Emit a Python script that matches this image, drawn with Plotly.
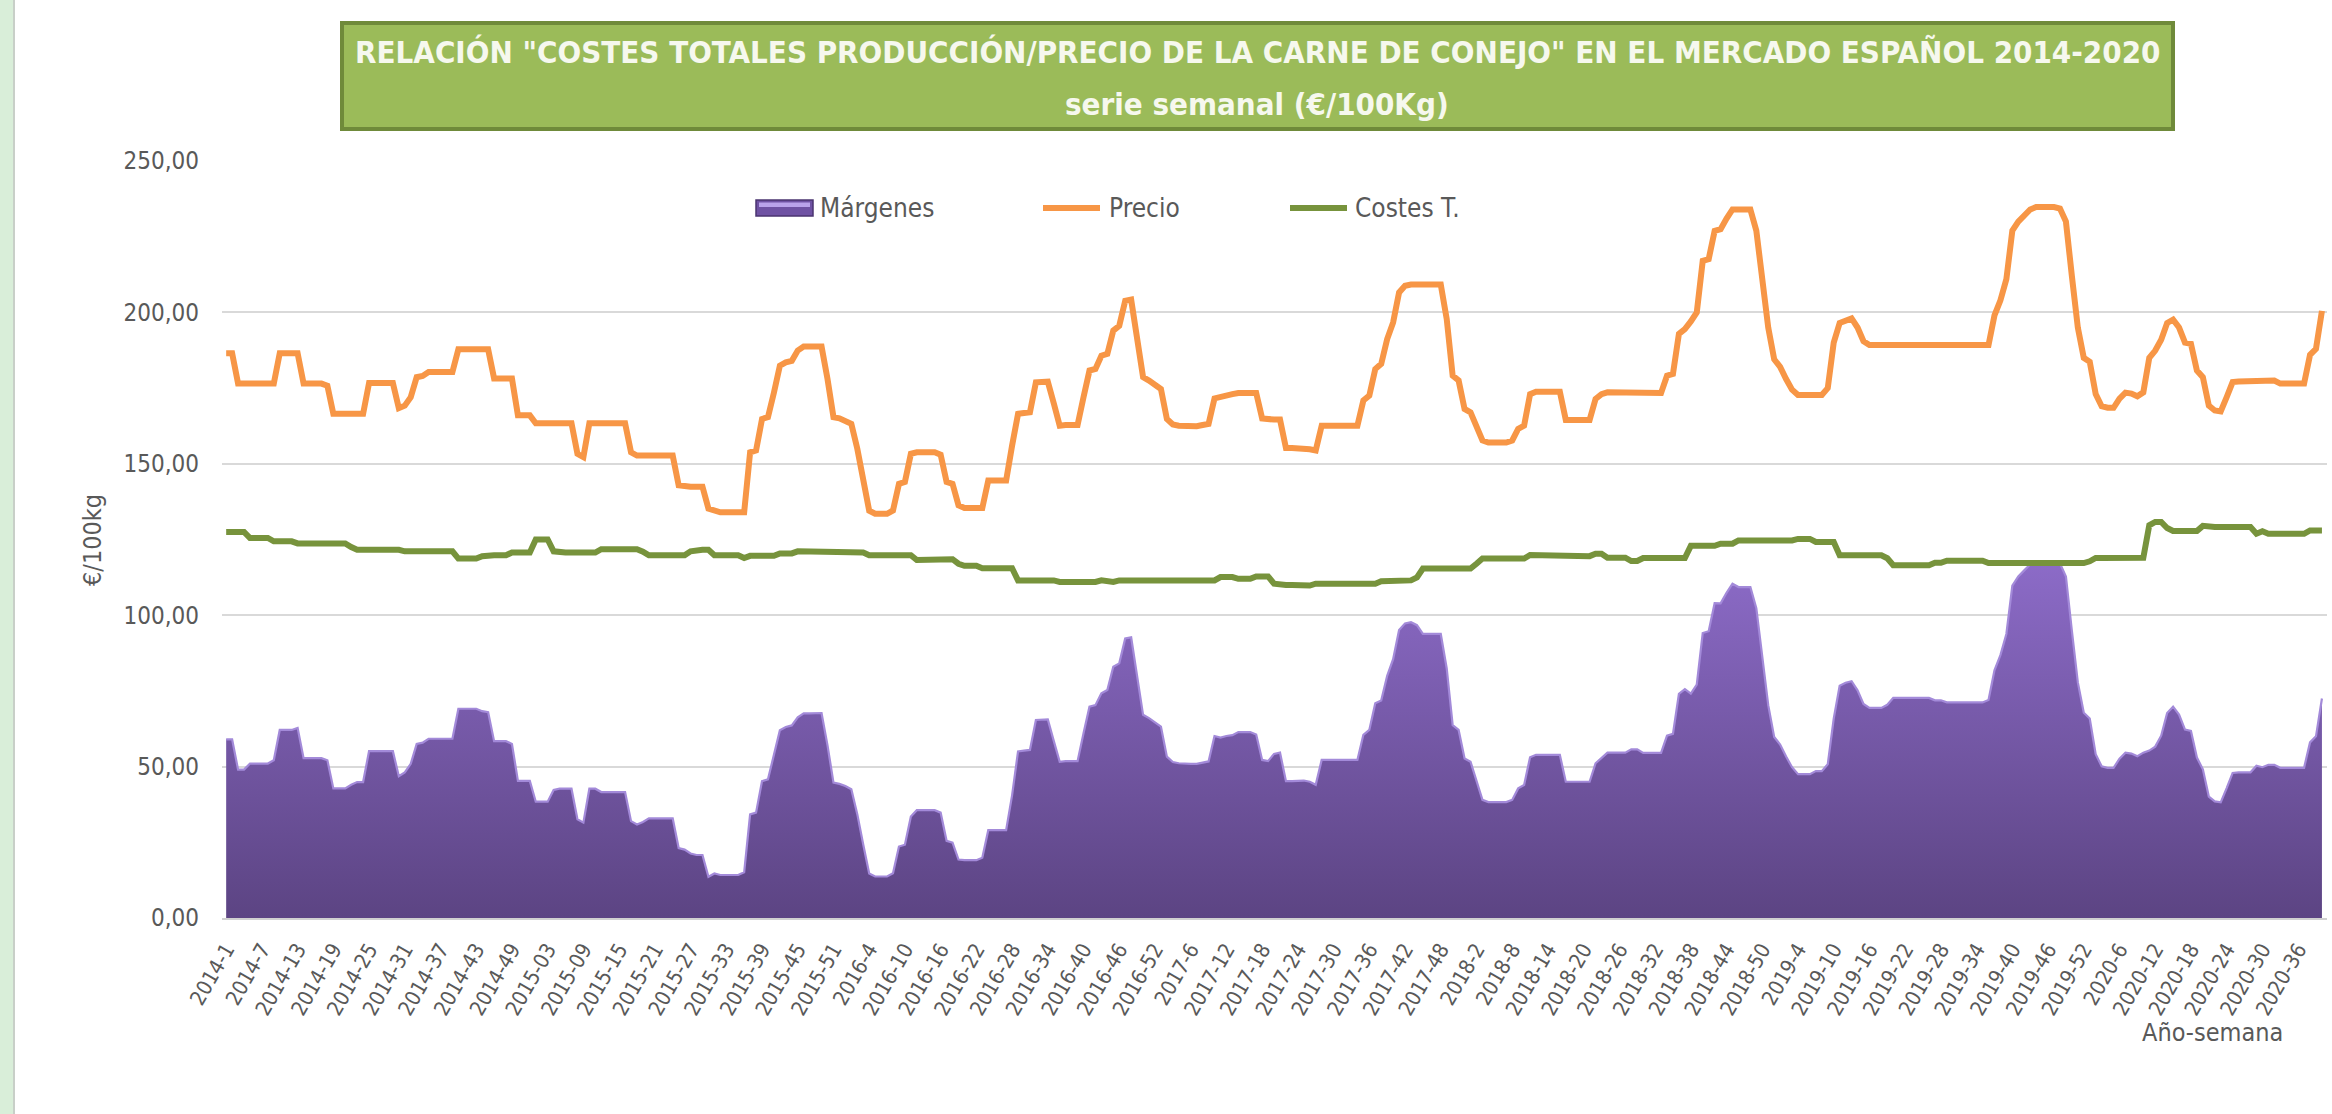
import plotly.graph_objects as go

# ---------------- DATA ----------------
years = [2014, 2015, 2016, 2017, 2018, 2019, 2020]
weeks_in_year = [52, 53, 52, 52, 52, 52, 40]

precio_2014 = [186.5, 186.5, 176.5, 176.5, 176.5, 176.5, 176.5, 176.5, 176.5, 186.5,
               186.5, 186.5, 186.5, 176.5, 176.5, 176.5, 176.5, 175.8, 166.5, 166.5,
               166.5, 166.5, 166.5, 166.5, 176.7, 176.7, 176.7, 176.7, 176.7, 168.4,
               169.2, 172.0, 178.6, 179.0, 180.3, 180.3, 180.3, 180.3, 180.3, 187.8,
               187.8, 187.8, 187.8, 187.8, 187.8, 178.2, 178.2, 178.2, 178.2, 166.0,
               166.0, 166.0]
precio_2015 = [163.4, 163.4, 163.4, 163.4, 163.4, 163.4, 163.4, 153.3, 152.2, 163.4,
               163.4, 163.4, 163.4, 163.4, 163.4, 163.4, 153.8, 152.7, 152.7, 152.7,
               152.7, 152.7, 152.7, 152.7, 142.9, 142.4, 142.4, 142.4, 142.4, 135.2,
               134.5, 134.0, 134.0, 134.0, 134.0, 134.0, 153.8, 154.4, 164.8, 165.4,
               173.5, 182.4, 183.5, 184.0, 187.4, 188.7, 188.7, 188.7, 188.7, 178.0,
               165.4, 165.0, 164.3]
precio_2016 = [163.2, 155.0, 145.0, 134.5, 133.5, 133.5, 133.5, 134.6, 143.4, 144.0,
               153.3, 153.8, 153.8, 153.8, 153.8, 153.0, 144.0, 143.4, 136.3, 135.4,
               135.4, 135.4, 135.4, 144.5, 144.5, 144.5, 144.5, 156.0, 166.5, 166.8,
               167.0, 176.9, 177.1, 177.1, 170.0, 162.6, 162.8, 162.8, 162.8, 172.0,
               180.8, 181.3, 185.7, 186.3, 194.0, 195.6, 203.8, 204.2, 191.2, 178.6,
               177.5, 176.0]
precio_2017 = [174.7, 164.8, 163.0, 162.6, 162.4, 162.4, 162.4, 162.8, 163.2, 171.6,
               172.2, 172.7, 173.0, 173.4, 173.4, 173.4, 173.4, 165.0, 164.6, 164.6,
               164.6, 155.2, 155.2, 155.2, 155.2, 154.8, 154.4, 162.6, 162.6, 162.6,
               162.6, 162.6, 162.6, 162.6, 170.9, 172.5, 181.3, 183.0, 191.2, 196.7,
               206.6, 208.8, 209.2, 209.2, 209.2, 209.2, 209.2, 209.2, 197.8, 179.1,
               177.5, 168.1]
precio_2018 = [167.0, 162.0, 157.7, 157.0, 157.0, 157.0, 157.0, 157.7, 161.5, 162.6,
               173.0, 173.8, 173.8, 173.8, 173.8, 173.8, 164.5, 164.5, 164.5, 164.5,
               164.5, 171.4, 173.0, 173.6, 173.6, 173.6, 173.6, 173.6, 173.6, 173.4,
               173.4, 173.4, 173.4, 179.1, 179.7, 192.9, 194.5, 197.0, 200.0, 217.0,
               217.6, 226.9, 227.5, 231.0, 234.0, 234.0, 234.0, 234.0, 227.0, 210.0,
               195.0, 184.5]
precio_2019 = [182.0, 178.0, 174.5, 172.7, 172.7, 172.7, 172.7, 172.7, 175.0, 190.0,
               196.5, 197.5, 198.0, 195.0, 190.5, 189.2, 189.2, 189.2, 189.2, 189.2,
               189.2, 189.2, 189.2, 189.2, 189.2, 189.2, 189.2, 189.2, 189.2, 189.2,
               189.2, 189.2, 189.2, 189.2, 189.2, 189.2, 199.0, 204.0, 211.0, 227.0,
               230.0, 232.0, 234.0, 234.8, 234.8, 234.8, 234.8, 234.3, 230.0, 212.0,
               195.0, 185.0]
precio_2020 = [183.7, 173.0, 169.0, 168.5, 168.5, 171.5, 173.5, 173.2, 172.3, 173.6,
               185.0, 187.4, 191.0, 196.5, 197.6, 195.0, 190.0, 189.6, 180.8, 178.6,
               169.2, 167.6, 167.3, 172.0, 177.0, 177.2, 177.2, 177.2, 177.2, 177.5,
               177.5, 177.5, 176.5, 176.5, 176.5, 176.5, 176.5, 186.0, 188.0, 200.5]

costes_2014 = [127.5, 127.5, 127.5, 127.5, 125.5, 125.5, 125.5, 125.5, 124.4, 124.4,
               124.4, 124.4, 123.7, 123.7, 123.7, 123.7, 123.7, 123.7, 123.7, 123.7,
               123.7, 122.5, 121.6, 121.6, 121.6, 121.6, 121.6, 121.6, 121.6, 121.6,
               121.1, 121.1, 121.1, 121.1, 121.1, 121.1, 121.1, 121.1, 121.1, 118.7,
               118.7, 118.7, 118.7, 119.5, 119.8, 119.8, 119.8, 119.8, 120.7, 120.7,
               120.7, 120.7]
costes_2015 = [125.0, 125.0, 125.0, 121.1, 120.7, 120.7, 120.7, 120.7, 120.7, 120.7,
               120.7, 121.8, 121.8, 121.8, 121.8, 121.8, 121.8, 121.8, 121.0, 119.8,
               119.8, 119.8, 119.8, 119.8, 119.8, 119.8, 121.1, 121.6, 121.6, 121.6,
               119.8, 119.8, 119.8, 119.8, 119.8, 118.9, 119.6, 119.6, 119.6, 119.6,
               119.6, 120.4, 120.4, 120.4, 121.1, 121.1, 121.1, 121.1, 121.0, 121.0,
               120.7, 120.7, 120.7]
costes_2016 = [120.7, 120.7, 120.7, 119.8, 119.8, 119.8, 119.8, 119.8, 119.8, 119.8,
               119.8, 118.2, 118.2, 118.2, 118.2, 118.2, 118.5, 118.5, 117.0, 116.3,
               116.3, 116.3, 115.5, 115.5, 115.5, 115.5, 115.5, 115.5, 111.5, 111.5,
               111.5, 111.5, 111.5, 111.5, 111.5, 111.0, 111.0, 111.0, 111.0, 111.0,
               111.0, 111.0, 111.5, 111.0, 111.0, 111.5, 111.5, 111.5, 111.5, 111.5,
               111.5, 111.5]
costes_2017 = [111.5, 111.5, 111.5, 111.5, 111.5, 111.5, 111.5, 111.5, 111.5, 111.5,
               112.6, 112.6, 112.6, 112.0, 112.0, 112.0, 112.8, 112.8, 112.8, 110.4,
               110.0, 110.0, 110.0, 110.0, 109.8, 109.8, 110.4, 110.4, 110.4, 110.4,
               110.4, 110.4, 110.4, 110.4, 110.4, 110.4, 110.4, 111.2, 111.2, 111.2,
               111.5, 111.5, 111.5, 112.5, 115.4, 115.4, 115.4, 115.4, 115.4, 115.4,
               115.4, 115.4]
costes_2018 = [115.4, 117.0, 118.7, 118.7, 118.7, 118.7, 118.7, 118.7, 118.7, 118.7,
               119.9, 119.9, 119.9, 119.9, 119.9, 119.9, 119.5, 119.5, 119.5, 119.5,
               119.5, 120.3, 120.3, 119.0, 119.0, 119.0, 119.0, 117.9, 117.9, 118.9,
               118.9, 118.9, 118.9, 118.9, 118.9, 118.9, 118.9, 122.9, 122.9, 122.9,
               122.9, 122.9, 123.6, 123.6, 123.6, 124.7, 124.7, 124.7, 124.7, 124.7,
               124.7, 124.7]
costes_2019 = [124.7, 124.7, 124.7, 125.2, 125.2, 125.2, 124.2, 124.2, 124.2, 124.2,
               119.8, 119.8, 119.8, 119.8, 119.8, 119.8, 119.8, 119.8, 118.8, 116.5,
               116.5, 116.5, 116.5, 116.5, 116.5, 116.5, 117.3, 117.3, 118.0, 118.0,
               118.0, 118.0, 118.0, 118.0, 118.0, 117.2, 117.2, 117.2, 117.2, 117.2,
               117.2, 117.2, 117.2, 117.2, 117.2, 117.2, 117.2, 117.2, 117.2, 117.2,
               117.2, 117.2]
costes_2020 = [117.8, 118.9, 118.9, 118.9, 118.9, 118.9, 118.9, 118.9, 118.9, 119.0,
               129.7, 130.8, 130.8, 128.8, 127.8, 127.8, 127.8, 127.8, 127.8, 129.5,
               129.1, 129.1, 129.1, 129.1, 129.1, 129.1, 129.1, 129.1, 126.9, 127.7,
               126.9, 126.9, 126.9, 126.9, 126.9, 126.9, 126.9, 128.0, 128.0, 128.0]

precio = (precio_2014 + precio_2015 + precio_2016 + precio_2017 +
          precio_2018 + precio_2019 + precio_2020)
costes = (costes_2014 + costes_2015 + costes_2016 + costes_2017 +
          costes_2018 + costes_2019 + costes_2020)
# Márgenes = Precio - Costes totales
margenes = [round(p - c, 2) for p, c in zip(precio, costes)]

# category labels "año-semana" (2015 labels are zero padded in the original)
categorias = []
for y, nw in zip(years, weeks_in_year):
    for w in range(1, nw + 1):
        categorias.append(f"{y}-{w:02d}" if y == 2015 else f"{y}-{w}")
tick_every = 6
tick_labels = categorias[::tick_every]

title_line1 = 'RELACIÓN "COSTES TOTALES PRODUCCIÓN/PRECIO DE LA CARNE DE CONEJO" EN EL MERCADO ESPAÑOL 2014-2020'
title_line2 = 'serie semanal (€/100Kg)'
series_names = ["Márgenes", "Precio", "Costes T."]
y_title = "€/100kg"
x_title = "Año-semana"

# ---------------- STYLE / GEOMETRY ----------------
W, H = 2332, 1114
L, R, T, B = 222, 5, 161, 196
PW, PH = W - L - R, H - T - B
FONT = "'DejaVu Sans Condensed', Lato, sans-serif"
TXT = "#595959"
C_PRECIO = "#f79646"
C_COSTES = "#77933c"


def px(x):
    return (x - L) / PW


def py(y):
    return (H - B - y) / PH


fig = go.Figure()
fig.add_trace(go.Scatter(
    x=categorias, y=margenes, name=series_names[0], mode="lines",
    line=dict(color="#a38ad9", width=2.2),
    fill="tozeroy",
    fillgradient=dict(type="vertical", colorscale=[[0, "#5c4483"], [1, "#8d6cc9"]],
                      start=0, stop=120),
    showlegend=False))
fig.add_trace(go.Scatter(
    x=categorias, y=precio, name=series_names[1], mode="lines",
    line=dict(color=C_PRECIO, width=6), showlegend=False))
fig.add_trace(go.Scatter(
    x=categorias, y=costes, name=series_names[2], mode="lines",
    line=dict(color=C_COSTES, width=6), showlegend=False))

shapes = []
annotations = []

# left green frame strip
shapes.append(dict(type="rect", xref="paper", yref="paper", x0=px(0), x1=px(13),
                   y0=py(H), y1=py(0), fillcolor="#d9eed9", line=dict(width=0), layer="below"))
shapes.append(dict(type="line", xref="paper", yref="paper", x0=px(14), x1=px(14),
                   y0=py(H), y1=py(0), line=dict(color="#c8cfc8", width=2), layer="below"))

# title box
shapes.append(dict(type="rect", xref="paper", yref="paper", x0=px(342), x1=px(2173),
                   y0=py(129), y1=py(23), fillcolor="#9bbb59",
                   line=dict(color="#6f8a3a", width=4)))
annotations.append(dict(xref="paper", yref="paper", x=px(1257), y=py(52), text=f"<b>{title_line1}</b>",
                        showarrow=False, xanchor="center", yanchor="middle",
                        font=dict(family=FONT, size=31, color="#f6f8ee")))
annotations.append(dict(xref="paper", yref="paper", x=px(1257), y=py(104), text=f"<b>{title_line2}</b>",
                        showarrow=False, xanchor="center", yanchor="middle",
                        font=dict(family=FONT, size=31, color="#f6f8ee")))

# legend (manual)
LEG_Y = 208
shapes.append(dict(type="rect", xref="paper", yref="paper", x0=px(756), x1=px(813),
                   y0=py(216), y1=py(200), fillcolor="#6f52a3", line=dict(color="#4b3570", width=1.5)))
shapes.append(dict(type="rect", xref="paper", yref="paper", x0=px(759), x1=px(810),
                   y0=py(207), y1=py(202.5), fillcolor="#b9a2ea", line=dict(width=0)))
annotations.append(dict(xref="paper", yref="paper", x=px(818), y=py(LEG_Y), text=series_names[0],
                        showarrow=False, xanchor="left", yanchor="middle",
                        font=dict(family=FONT, size=26, color=TXT)))
shapes.append(dict(type="line", xref="paper", yref="paper", x0=px(1043), x1=px(1100),
                   y0=py(LEG_Y), y1=py(LEG_Y), line=dict(color=C_PRECIO, width=6)))
annotations.append(dict(xref="paper", yref="paper", x=px(1107), y=py(LEG_Y), text=series_names[1],
                        showarrow=False, xanchor="left", yanchor="middle",
                        font=dict(family=FONT, size=26, color=TXT)))
shapes.append(dict(type="line", xref="paper", yref="paper", x0=px(1290), x1=px(1347),
                   y0=py(LEG_Y), y1=py(LEG_Y), line=dict(color=C_COSTES, width=6)))
annotations.append(dict(xref="paper", yref="paper", x=px(1353), y=py(LEG_Y), text=series_names[2],
                        showarrow=False, xanchor="left", yanchor="middle",
                        font=dict(family=FONT, size=26, color=TXT)))

# axis titles
annotations.append(dict(xref="paper", yref="paper", x=px(92), y=py(540), text=y_title,
                        textangle=-90, showarrow=False, xanchor="center", yanchor="middle",
                        font=dict(family=FONT, size=25, color=TXT)))
annotations.append(dict(xref="paper", yref="paper", x=px(2212), y=py(1032), text=x_title,
                        showarrow=False, xanchor="center", yanchor="middle",
                        font=dict(family=FONT, size=25, color=TXT)))

fig.update_layout(
    width=W, height=H,
    margin=dict(l=L, r=R, t=T, b=B, pad=0),
    paper_bgcolor="white", plot_bgcolor="white",
    separators=",.",
    showlegend=False,
    font=dict(family=FONT, color=TXT),
    shapes=shapes, annotations=annotations,
    xaxis=dict(type="category", range=[-0.7, len(categorias) - 1 + 0.85],
               tickmode="array", tickvals=tick_labels, ticktext=tick_labels,
               tickangle=-60, tickfont=dict(size=21, color=TXT),
               showgrid=False, showline=True, linecolor="#d0d0d0", linewidth=2,
               ticks="", zeroline=False, ticklabelstandoff=9),
    yaxis=dict(range=[0, 250], dtick=50, tick0=0, tickformat=".2f",
               gridcolor="#d9d9d9", gridwidth=1.5, tickfont=dict(size=24, color=TXT),
               ticklabelstandoff=22, zeroline=False, showline=False, ticks=""),
)

fig.write_html("out.html", config={"displayModeBar": False},
               post_script="document.body.style.margin='0';document.body.style.overflow='hidden';")
